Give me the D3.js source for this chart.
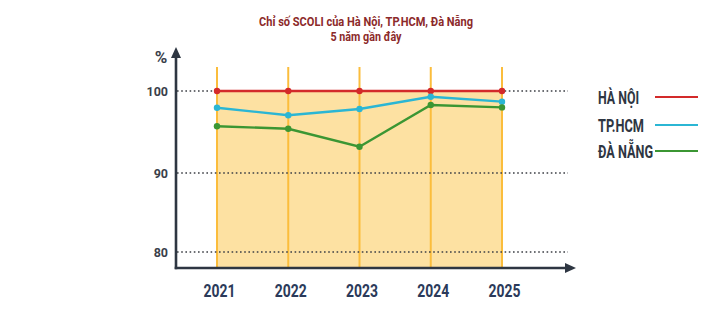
<!DOCTYPE html>
<html><head><meta charset="utf-8">
<script src="https://cdn.jsdelivr.net/npm/d3@7"></script>
<style>html,body{margin:0;padding:0;background:#fff;}svg{display:block;}</style>
</head><body>
<script>
const years = ["2021","2022","2023","2024","2025"];
const hanoi = [100,100,100,100,100];
const hcm = [97.95,97.05,97.8,99.3,98.7];
const danang = [95.7,95.4,93.2,98.3,98.0];
const yTicks = [80,90,100];
const seriesNames = ["HÀ NỘI","TP.HCM","ĐÀ NẴNG"];
const seriesColors = ["#d32a2a","#2bb6d4","#3b9633"];
const titleLines = ["Chỉ số SCOLI của Hà Nội, TP.HCM, Đà Nẵng","5 năm gần đây"];

const W=720,H=336;
const svg=d3.select("body").append("svg").attr("width",W).attr("height",H);
const FONT="'Liberation Sans Narrow','Roboto','DejaVu Sans Condensed',sans-serif";

const x=d3.scalePoint().domain(years).range([217,502]);
const y=d3.scaleLinear().domain([80,90,100]).range([252,173,91]);
const axisX=176, axisY=268;

// area fill under Hà Nội line
const area=d3.area().x((d,i)=>x(years[i])).y0(axisY).y1(d=>y(d));
svg.append("path").datum(hanoi).attr("d",area).attr("fill","#fde1a2");

// orange vertical lines
svg.selectAll("line.v").data(years).enter().append("line")
  .attr("x1",d=>x(d)).attr("x2",d=>x(d)).attr("y1",67).attr("y2",axisY)
  .attr("stroke","#fbbd3c").attr("stroke-width",2);

// grid lines + y labels via axis
const yAxis=d3.axisLeft(y).tickValues(yTicks).tickSize(0).tickPadding(8);
const gy=svg.append("g").attr("transform",`translate(${axisX},0)`).call(yAxis);
gy.select(".domain").remove();
gy.selectAll("text").attr("font-family","Roboto,sans-serif").attr("font-weight","bold")
  .attr("font-size",12.5).attr("fill","#3a3f4a");
svg.selectAll("line.grid").data(yTicks).enter().append("line")
  .attr("x1",axisX+1).attr("x2",568).attr("y1",d=>y(d)).attr("y2",d=>y(d))
  .attr("stroke","#3c3f45").attr("stroke-width",1.4).attr("stroke-dasharray","1.6,2.6");

// x labels via axis
const xAxis=d3.axisBottom(x).tickSize(0).tickPadding(0);
const gx=svg.append("g").attr("transform",`translate(0,${axisY})`).call(xAxis);
gx.select(".domain").remove();
gx.selectAll("text").attr("y",29).attr("dy",0).attr("dx",2)
  .attr("font-family",FONT).attr("font-weight","bold").attr("font-size",19)
  .attr("fill","#2b3a5a").attr("textLength",32).attr("lengthAdjust","spacingAndGlyphs");

// axes lines with arrows
const axisColor="#2e3642";
svg.append("line").attr("x1",axisX).attr("x2",axisX).attr("y1",axisY+1.2).attr("y2",56)
  .attr("stroke",axisColor).attr("stroke-width",2.6);
svg.append("path").attr("d",`M${axisX-5},${58} L${axisX},${47} L${axisX+5},${58} Z`).attr("fill",axisColor);
svg.append("line").attr("x1",axisX-1.3).attr("x2",566).attr("y1",axisY).attr("y2",axisY)
  .attr("stroke",axisColor).attr("stroke-width",2.6);
svg.append("path").attr("d",`M${565},${axisY-5} L${576},${axisY} L${565},${axisY+5} Z`).attr("fill",axisColor);

// % label
svg.append("text").attr("x",161).attr("y",63).attr("text-anchor","middle")
  .attr("font-family","Roboto,sans-serif").attr("font-weight","bold").attr("font-size",17)
  .attr("fill","#3a3f4a").text("%");

// series lines
const allSeries=[hanoi,hcm,danang];
const line=d3.line().x((d,i)=>x(years[i])).y(d=>y(d));
allSeries.forEach((s,k)=>{
  svg.append("path").datum(s).attr("d",line).attr("fill","none")
    .attr("stroke",seriesColors[k]).attr("stroke-width",2.4);
});
allSeries.forEach((s,k)=>{
  svg.selectAll(null).data(s).enter().append("circle")
    .attr("cx",(d,i)=>x(years[i])).attr("cy",d=>y(d)).attr("r",3.2).attr("fill",seriesColors[k]);
});

// legend
const legY=[97,125,151];
const legW=[41,46,55];
seriesNames.forEach((n,k)=>{
  svg.append("text").attr("x",598).attr("y",legY[k]+6.5)
    .attr("font-family",FONT).attr("font-weight","bold").attr("font-size",17.5)
    .attr("fill","#2e3642").attr("textLength",legW[k]).attr("lengthAdjust","spacingAndGlyphs").text(n);
  svg.append("line").attr("x1",655).attr("x2",698).attr("y1",legY[k]).attr("y2",legY[k])
    .attr("stroke",seriesColors[k]).attr("stroke-width",2);
});

// title
const tw=[214,71];
titleLines.forEach((t,i)=>{
  svg.append("text").attr("x",366).attr("y",26+i*14.5).attr("text-anchor","middle")
    .attr("font-family",FONT).attr("font-weight","bold").attr("font-size",12)
    .attr("fill","#8c2a2a").attr("textLength",tw[i]).attr("lengthAdjust","spacingAndGlyphs").text(t);
});
</script>
</body></html>
